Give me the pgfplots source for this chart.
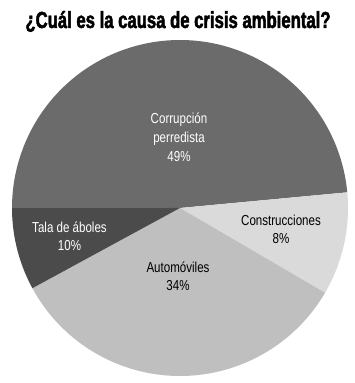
\documentclass[border=0pt]{standalone}
\usepackage{fontspec}
\setmainfont{Liberation Sans}[FakeStretch=0.8]
\newfontfamily\titlefont{Liberation Sans}[FakeStretch=0.7,FakeBold=2]
\usepackage{pgfplots}
\pgfplotsset{compat=1.18}
\definecolor{cCorr}{HTML}{6B6B6B}
\definecolor{cCons}{HTML}{DADADA}
\definecolor{cAuto}{HTML}{BFBFBF}
\definecolor{cTala}{HTML}{4B4B4B}
% slice sizes as drawn (sum 101)
\def\vCorr{49}\def\vCons{10}\def\vAuto{34}\def\vTala{8}
\pgfmathsetmacro\total{\vCorr+\vCons+\vAuto+\vTala}
\pgfmathsetmacro\aO{180}
\pgfmathsetmacro\aA{\aO-\vCorr/\total*360}
\pgfmathsetmacro\aB{\aA-\vCons/\total*360}
\pgfmathsetmacro\aC{\aB-\vAuto/\total*360}
\pgfmathsetmacro\aD{\aC-\vTala/\total*360}
\def\cx{180}\def\cy{175}\def\rr{168}
\begin{document}
\begin{tikzpicture}
\begin{axis}[width=355bp,height=383bp,scale only axis,
  xmin=0,xmax=355,ymin=0,ymax=383,hide axis,clip=false]
\addplot[fill=cCorr,draw=none,domain=\aA:\aO,samples=120,variable=\t]
  ({\cx+\rr*cos(\t)},{\cy+\rr*sin(\t)}) -- (axis cs:\cx,\cy) -- cycle;
\addplot[fill=cCons,draw=none,domain=\aB:\aA,samples=40,variable=\t]
  ({\cx+\rr*cos(\t)},{\cy+\rr*sin(\t)}) -- (axis cs:\cx,\cy) -- cycle;
\addplot[fill=cAuto,draw=none,domain=\aC:\aB,samples=100,variable=\t]
  ({\cx+\rr*cos(\t)},{\cy+\rr*sin(\t)}) -- (axis cs:\cx,\cy) -- cycle;
\addplot[fill=cTala,draw=none,domain=\aD:\aC,samples=30,variable=\t]
  ({\cx+\rr*cos(\t)},{\cy+\rr*sin(\t)}) -- (axis cs:\cx,\cy) -- cycle;
\path (axis cs:0,0) (axis cs:355,383);
\node[white,align=center,font=\fontsize{14.5}{19}\selectfont] at (axis cs:179,246) {Corrupción\\perredista\\49\%};
\node[white,align=center,font=\fontsize{14.5}{18}\selectfont] at (axis cs:69.5,147) {Tala de áboles\\10\%};
\node[black,align=center,font=\fontsize{14.5}{18}\selectfont] at (axis cs:281,154) {Construcciones\\8\%};
\node[black,align=center,font=\fontsize{14.5}{18}\selectfont] at (axis cs:178,107) {Automóviles\\34\%};
\node[anchor=base] at (axis cs:178,355) {\resizebox{305bp}{17bp}{\titlefont\bfseries ¿Cuál es la causa de crisis ambiental?}};
\end{axis}
\end{tikzpicture}
\end{document}
